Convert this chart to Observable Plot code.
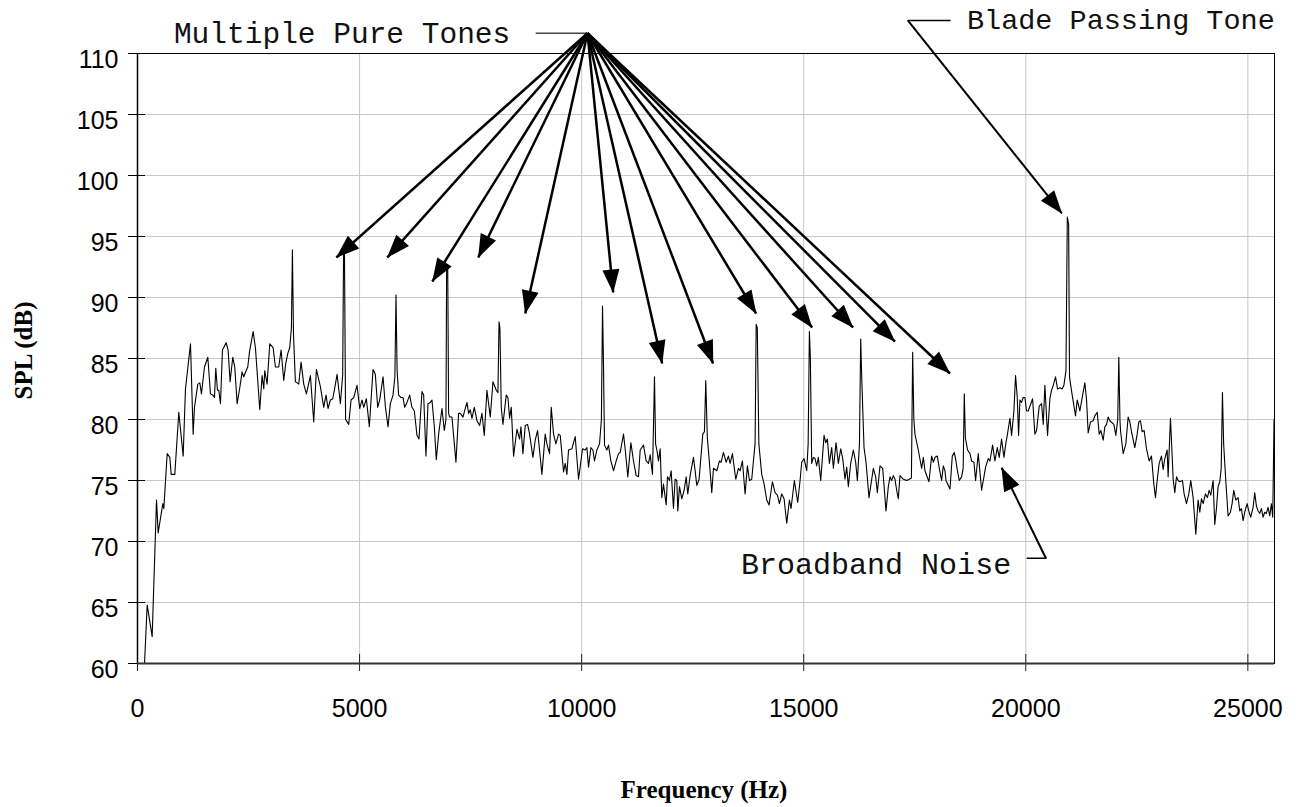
<!DOCTYPE html>
<html>
<head>
<meta charset="utf-8">
<script src="https://cdn.jsdelivr.net/npm/d3@7"></script>
<script src="https://cdn.jsdelivr.net/npm/@observablehq/plot@0.6"></script>
<style>
  html, body { margin: 0; padding: 0; background: #fff; }
  svg { display: block; }
</style>
</head>
<body>
<div id="chart"></div>
<script>
// Spectrum: [frequency (Hz), SPL (dB)]
const spectrum = [
[158,60.0],[218,64.8],[330,62.2],[428,73.4],[465,70.7],[570,73.1],[593,72.7],[668,77.2],[728,76.9],[758,75.5],
[840,75.5],[930,80.6],[1028,77.0],[1080,82.5],[1193,86.2],[1253,78.8],[1283,81.0],[1358,82.9],[1403,83.0],[1440,82.1],
[1508,84.3],[1583,85.1],[1643,82.1],[1695,82.0],[1733,81.8],[1763,84.2],[1800,82.4],[1830,82.4],[1868,81.3],[1913,85.7],
[1995,86.3],[2040,85.7],[2085,83.1],[2145,85.1],[2190,84.3],[2243,81.3],[2303,82.6],[2355,83.9],[2393,83.5],[2445,84.0],
[2483,84.3],[2520,85.5],[2603,87.2],[2655,85.9],[2753,80.8],[2805,83.6],[2843,82.5],[2865,84.0],[2918,82.9],[2978,86.2],
[3053,85.9],[3105,84.3],[3180,84.3],[3233,85.7],[3293,83.2],[3338,84.6],[3383,85.4],[3428,85.9],[3465,87.5],[3488,93.9],
[3512,87.0],[3555,83.1],[3630,82.9],[3683,84.7],[3743,82.9],[3803,82.1],[3893,83.6],[3968,79.8],[4028,84.1],[4118,82.7],
[4193,81.0],[4245,82.0],[4290,80.9],[4343,81.6],[4395,81.7],[4433,82.4],[4493,83.7],[4568,81.3],[4620,83.7],[4640,93.9],
[4660,93.5],[4685,80.0],[4755,79.6],[4808,81.6],[4868,81.8],[4943,82.8],[5003,80.9],[5055,81.6],[5093,81.0],[5153,81.7],
[5220,79.4],[5303,84.1],[5355,83.7],[5408,81.0],[5453,81.6],[5528,83.5],[5580,81.1],[5640,79.4],[5693,81.3],[5753,82.0],
[5795,83.5],[5820,90.2],[5845,84.0],[5880,82.0],[5933,81.8],[5978,81.8],[6015,81.0],[6068,81.4],[6128,82.0],[6180,81.0],
[6233,80.7],[6293,78.7],[6338,78.4],[6405,82.3],[6443,82.0],[6495,77.0],[6540,81.3],[6593,81.4],[6630,81.6],[6683,79.4],
[6728,76.7],[6780,78.8],[6855,80.9],[6908,79.1],[6945,80.0],[6960,92.6],[6985,92.4],[7005,80.5],[7028,80.2],[7080,80.2],
[7170,76.5],[7230,80.5],[7268,80.5],[7328,80.2],[7365,80.7],[7418,81.4],[7455,80.5],[7493,80.8],[7530,80.1],[7583,81.0],
[7643,79.9],[7703,79.5],[7755,80.5],[7808,78.7],[7868,82.4],[7943,80.2],[8003,83.1],[8078,82.4],[8115,82.2],[8140,88.0],
[8160,87.5],[8190,81.0],[8228,79.6],[8303,82.0],[8340,81.8],[8378,80.1],[8415,81.0],[8468,77.0],[8543,79.2],[8603,78.4],
[8633,79.4],[8678,77.2],[8730,79.5],[8783,79.6],[8828,78.8],[8903,76.9],[8955,78.3],[9008,79.1],[9068,76.9],[9105,75.5],
[9180,78.8],[9218,78.0],[9278,77.2],[9315,81.0],[9368,78.8],[9420,78.0],[9480,78.8],[9518,78.7],[9593,75.7],[9630,76.4],
[9668,75.5],[9705,77.5],[9780,77.6],[9855,78.6],[9930,75.1],[10020,77.6],[10080,77.5],[10118,77.7],[10155,76.1],[10208,77.7],
[10253,77.5],[10290,76.6],[10343,77.5],[10403,78.0],[10445,80.0],[10470,89.3],[10490,85.0],[10515,77.9],[10568,77.5],[10605,77.9],
[10658,76.6],[10718,75.8],[10778,76.6],[10830,77.2],[10868,77.3],[10943,78.8],[10988,77.3],[11040,75.3],[11108,78.1],[11168,76.6],
[11228,75.4],[11280,75.3],[11318,77.5],[11393,77.9],[11453,76.6],[11505,76.4],[11543,77.1],[11595,75.5],[11640,83.5],[11665,78.0],
[11693,77.5],[11730,76.6],[11768,77.6],[11805,73.6],[11843,74.7],[11903,73.0],[11933,75.3],[11978,75.0],[12015,75.8],[12068,72.7],
[12105,75.1],[12143,75.0],[12165,72.5],[12203,74.5],[12255,73.5],[12308,74.2],[12353,75.3],[12390,73.9],[12443,75.4],[12518,76.9],
[12555,75.8],[12593,74.6],[12645,75.1],[12728,78.8],[12765,79.0],[12795,83.2],[12830,78.5],[12870,76.8],[12930,74.0],[12968,76.0],
[13043,75.8],[13103,76.6],[13140,76.5],[13193,77.3],[13253,76.5],[13305,77.0],[13343,76.4],[13395,77.2],[13470,75.1],[13530,76.0],
[13568,75.8],[13620,76.6],[13680,73.9],[13733,76.2],[13778,75.0],[13830,75.1],[13868,76.6],[13905,78.0],[13930,87.8],[13955,87.5],
[13990,78.0],[14055,75.5],[14108,74.7],[14168,73.4],[14220,73.0],[14295,74.9],[14355,74.0],[14408,73.8],[14453,73.1],[14505,73.9],
[14558,73.5],[14618,71.5],[14678,73.4],[14715,72.7],[14790,75.0],[14865,73.2],[14918,75.0],[14955,76.5],[15008,76.8],[15068,75.8],
[15100,78.0],[15128,87.2],[15150,85.0],[15180,76.4],[15218,76.9],[15255,76.8],[15293,76.2],[15330,76.9],[15383,75.0],[15458,78.7],
[15495,78.1],[15533,78.4],[15578,76.4],[15630,77.7],[15668,76.0],[15728,78.1],[15780,76.4],[15833,77.6],[15878,76.8],[15930,75.1],
[15968,76.1],[16005,74.5],[16058,76.4],[16118,77.5],[16170,76.5],[16208,75.0],[16255,78.0],[16283,86.6],[16310,83.0],[16358,77.7],
[16403,76.5],[16470,73.6],[16515,74.7],[16568,76.0],[16620,75.3],[16658,74.0],[16718,76.2],[16778,76.0],[16853,72.5],[16905,74.5],
[16943,75.3],[16980,75.0],[17018,75.4],[17055,75.1],[17093,74.2],[17130,73.5],[17168,75.4],[17243,75.1],[17318,75.0],[17378,75.1],
[17425,75.2],[17453,85.5],[17480,80.0],[17505,78.8],[17580,77.5],[17655,76.0],[17693,76.9],[17730,75.8],[17820,74.9],[17880,77.0],
[17918,76.5],[17955,76.9],[18008,77.0],[18053,76.0],[18105,75.0],[18143,76.2],[18180,75.8],[18203,75.0],[18293,74.3],[18345,77.0],
[18390,77.3],[18428,76.6],[18465,75.7],[18503,75.0],[18555,75.3],[18590,76.0],[18615,82.1],[18640,78.5],[18690,77.5],[18743,77.2],
[18780,76.6],[18833,76.5],[18870,75.0],[18930,77.2],[19005,74.2],[19058,75.3],[19095,76.1],[19155,76.8],[19193,76.6],[19253,77.9],
[19305,76.6],[19358,77.7],[19403,76.9],[19455,78.4],[19508,76.9],[19553,78.1],[19583,78.7],[19643,80.1],[19680,78.7],[19733,80.7],
[19770,83.6],[19808,81.8],[19838,78.7],[19868,81.6],[19905,81.4],[19943,81.8],[19980,81.8],[20018,80.7],[20055,80.7],[20153,81.7],
[20205,78.8],[20243,79.1],[20303,81.1],[20355,81.3],[20393,79.6],[20430,82.8],[20490,78.7],[20543,81.7],[20580,82.4],[20618,82.8],
[20670,83.5],[20715,82.5],[20768,82.6],[20820,82.5],[20858,82.8],[20905,84.0],[20935,96.6],[20965,96.0],[20985,83.5],[21008,82.9],
[21045,82.0],[21120,80.3],[21158,81.6],[21218,80.7],[21270,81.8],[21330,83.0],[21368,81.6],[21405,78.9],[21458,79.8],[21518,79.9],
[21555,80.3],[21608,80.6],[21653,78.8],[21690,79.1],[21743,78.3],[21780,79.4],[21818,79.6],[21855,80.2],[21893,79.9],[21983,79.6],
[22028,78.7],[22070,80.0],[22095,85.1],[22120,80.0],[22133,79.1],[22193,77.2],[22253,78.0],[22305,80.2],[22343,79.8],[22380,79.0],
[22455,77.7],[22508,78.8],[22545,79.8],[22583,79.9],[22620,79.0],[22665,79.1],[22718,77.6],[22778,76.6],[22830,77.0],[22883,74.7],
[22920,73.6],[22958,75.0],[23003,76.4],[23055,77.0],[23093,75.9],[23130,76.8],[23183,77.5],[23205,75.3],[23258,80.1],[23280,78.3],
[23318,75.1],[23355,74.0],[23393,75.3],[23430,75.0],[23468,74.9],[23528,75.0],[23565,73.9],[23618,73.1],[23670,73.9],[23715,75.0],
[23768,73.6],[23828,70.6],[23880,73.4],[23918,72.4],[23955,73.5],[23993,73.1],[24045,73.9],[24090,73.6],[24128,74.2],[24165,73.8],
[24218,75.0],[24255,71.4],[24293,72.7],[24330,74.5],[24368,74.9],[24400,76.0],[24428,82.2],[24455,78.0],[24503,75.0],[24555,72.1],
[24608,72.4],[24645,73.1],[24683,74.2],[24728,73.4],[24780,73.6],[24818,72.5],[24855,72.7],[24893,71.7],[24930,72.4],[24983,73.1],
[25028,72.4],[25065,72.0],[25118,72.8],[25155,74.0],[25193,72.9],[25230,72.5],[25268,72.3],[25305,72.7],[25343,72.0],[25380,72.4],
[25418,72.3],[25455,72.8],[25493,72.1],[25530,73.1],[25560,72.0],[25590,80.0]
];

const xTicks = [0, 5000, 10000, 15000, 20000, 25000];
const yTicks = [60, 65, 70, 75, 80, 85, 90, 95, 100, 105, 110];
const xGrid = [5000, 10000, 15000, 20000, 25000];
const yGrid = [65, 70, 75, 80, 85, 90, 95, 100, 105];

// Annotation: "Multiple Pure Tones" fan of arrows (data units)
const toneLabel = "Multiple Pure Tones";
const toneLabelAt = [820, 110.9];
const toneLeaderHz = [8978, 10132];
const toneApex = [10132, 111.66];
const toneTipHz = [4478, 5625, 6638, 7673, 8730, 10710, 11813, 12960, 13928, 15188, 16110, 17055, 18293];
const toneTipDb = [93.28, 93.28, 91.31, 93.28, 88.69, 90.41, 84.59, 84.59, 88.69, 87.54, 87.54, 86.39, 83.77];

// Annotation: "Blade Passing Tone"
const bladeLabel = "Blade Passing Tone";
const bladeLabelAt = [18675, 112.02];
const bladeLeaderHz = [17348, 18293];
const bladeLeaderDb = 112.70;
const bladeTip = [20813, 96.89];

// Annotation: "Broadband Noise"
const noiseLabel = "Broadband Noise";
const noiseLabelAt = [13590, 67.35];
const noiseLeaderHz = [20032, 20453];
const noiseLeaderDb = 68.63;
const noiseTip = [19456, 76.04];

function triHead(color) {
  const ns = "http://www.w3.org/2000/svg";
  const m = document.createElementNS(ns, "marker");
  m.setAttribute("viewBox", "-24 -9 25 18");
  m.setAttribute("markerWidth", 25);
  m.setAttribute("markerHeight", 18);
  m.setAttribute("markerUnits", "userSpaceOnUse");
  m.setAttribute("refX", 0);
  m.setAttribute("refY", 0);
  m.setAttribute("orient", "auto");
  const p = document.createElementNS(ns, "path");
  p.setAttribute("d", "M0.5,0L-23,-8.5L-23,8.5Z");
  p.setAttribute("fill", color);
  p.setAttribute("stroke", "none");
  m.appendChild(p);
  return m;
}

const monoFont = "Liberation Mono, Courier New, monospace";
const serifFont = "Liberation Serif, Times New Roman, serif";
const plain = d => String(d);

const chart = Plot.plot({
  width: 1297,
  height: 807,
  marginLeft: 137,
  marginRight: 23,
  marginTop: 53,
  marginBottom: 144,
  style: {fontFamily: "Liberation Sans, Arial, sans-serif", fontSize: "25px", background: "#fff", overflow: "visible"},
  x: {domain: [0, 25600]},
  y: {domain: [60, 110]},
  marks: [
    Plot.ruleX(xGrid, {stroke: "#c8c8c8", strokeWidth: 1}),
    Plot.ruleY(yGrid, {stroke: "#c8c8c8", strokeWidth: 1}),
    Plot.frame({stroke: "#000", strokeWidth: 1}),
    Plot.axisY(yTicks, {tickSize: 0, tickPadding: 19, dy: 6, fontSize: 25, tickFormat: plain, label: null}),
    Plot.axisY(yTicks, {tickSize: 17, dx: 8, fill: "none", stroke: "#000", label: null}),
    Plot.axisX(xTicks, {tickSize: 0, tickPadding: 36, fontSize: 25, tickFormat: plain, label: null}),
    Plot.axisX(xTicks, {tickSize: 17, dy: -9, fill: "none", stroke: "#222", label: null}),
    Plot.line(spectrum, {x: d => d[0], y: d => d[1], stroke: "#000", strokeWidth: 1.1, clip: true}),
    Plot.ruleX([0], {stroke: "#000", strokeWidth: 1.5}),
    Plot.ruleY([60], {stroke: "#333", strokeWidth: 2}),
    // Multiple pure tones
    Plot.line(toneLeaderHz, {x: d => d, y: () => toneApex[1], stroke: "#444", strokeWidth: 1.5}),
    Plot.link(toneTipHz, {
      x1: () => toneApex[0], y1: () => toneApex[1],
      x2: d => d, y2: (d, i) => toneTipDb[i],
      stroke: "#000", strokeWidth: 2.5, markerEnd: triHead
    }),
    Plot.text([toneLabel], {x: () => toneLabelAt[0], y: () => toneLabelAt[1], text: d => d,
      textAnchor: "start", lineAnchor: "bottom", fontFamily: monoFont, fontSize: 29.5, fill: "#111"}),
    // Blade passing tone
    Plot.line(bladeLeaderHz, {x: d => d, y: () => bladeLeaderDb, stroke: "#000", strokeWidth: 1.5}),
    Plot.link([bladeTip], {
      x1: () => bladeLeaderHz[0], y1: () => bladeLeaderDb,
      x2: d => d[0], y2: d => d[1],
      stroke: "#000", strokeWidth: 2, markerEnd: triHead
    }),
    Plot.text([bladeLabel], {x: () => bladeLabelAt[0], y: () => bladeLabelAt[1], text: d => d,
      textAnchor: "start", lineAnchor: "bottom", fontFamily: monoFont, fontSize: 28.5, fill: "#111"}),
    // Broadband noise
    Plot.line(noiseLeaderHz, {x: d => d, y: () => noiseLeaderDb, stroke: "#000", strokeWidth: 1.5}),
    Plot.link([noiseTip], {
      x1: () => noiseLeaderHz[1], y1: () => noiseLeaderDb,
      x2: d => d[0], y2: d => d[1],
      stroke: "#000", strokeWidth: 2, markerEnd: triHead
    }),
    Plot.text([noiseLabel], {x: () => noiseLabelAt[0], y: () => noiseLabelAt[1], text: d => d,
      textAnchor: "start", lineAnchor: "bottom", fontFamily: monoFont, fontSize: 30, fill: "#111"}),
    // Axis titles
    Plot.text(["SPL (dB)"], {frameAnchor: "left", text: d => d, rotate: -90, dx: -114, dy: -8,
      textAnchor: "middle", lineAnchor: "middle", fontFamily: serifFont, fontWeight: "bold", fontSize: 25, fill: "#000"}),
    Plot.text(["Frequency (Hz)"], {frameAnchor: "bottom", text: d => d, dx: -2, dy: 134,
      textAnchor: "middle", lineAnchor: "bottom", fontFamily: serifFont, fontWeight: "bold", fontSize: 25, fill: "#000"})
  ]
});

document.getElementById("chart").appendChild(chart);
</script>
</body>
</html>
